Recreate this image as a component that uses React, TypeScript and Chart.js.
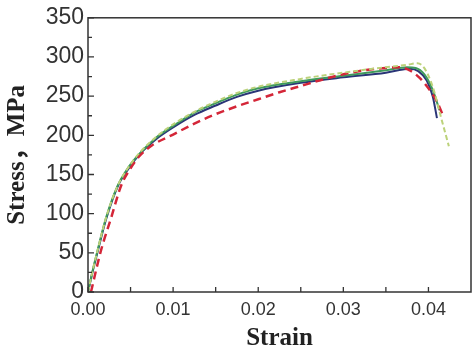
import React, { useEffect, useRef } from "react";
import { Chart, registerables } from "chart.js";

Chart.register(...registerables);

const xTicks = [0, 0.01, 0.02, 0.03, 0.04];
const yTicks = [0, 50, 100, 150, 200, 250, 300, 350];

const blueStrain = [0, 0.0005, 0.0011, 0.0021, 0.0035, 0.0048, 0.006, 0.008, 0.01, 0.0125, 0.015, 0.0175, 0.02, 0.025, 0.03, 0.035, 0.037, 0.0378, 0.0388, 0.0398, 0.0405, 0.041];
const blueStress = [0, 24, 50, 92, 135, 158, 175, 195, 210, 226, 238, 249, 257, 267, 274, 280, 284, 285, 282, 270, 250, 222];

const greenStrain = [0, 0.0005, 0.0011, 0.0021, 0.0035, 0.0048, 0.006, 0.008, 0.01, 0.0125, 0.015, 0.0175, 0.02, 0.025, 0.03, 0.035, 0.0375, 0.0385, 0.0395, 0.0405, 0.0413];
const greenStress = [0, 25, 52, 94, 136, 160, 176, 197, 212, 229, 241, 252, 260, 269, 276, 283, 287, 286, 278, 258, 232];

const redStrain = [0.00035, 0.0015, 0.0027, 0.0039, 0.005, 0.006, 0.0075, 0.01, 0.0125, 0.015, 0.0175, 0.02, 0.0225, 0.025, 0.0275, 0.03, 0.0325, 0.035, 0.0365, 0.0378, 0.039, 0.04, 0.041, 0.0416];
const redStress = [0, 52, 94, 136, 158, 173, 187, 201, 215, 227, 237, 246, 255, 263, 271, 278, 283, 286, 287, 283, 273, 260, 243, 228];

const lightStrain = [0, 0.0005, 0.0011, 0.0021, 0.0035, 0.0048, 0.006, 0.008, 0.01, 0.0125, 0.015, 0.0175, 0.02, 0.025, 0.03, 0.035, 0.0375, 0.0387, 0.0395, 0.0405, 0.0415, 0.0424];
const lightStress = [0, 25, 52, 94, 136, 160, 177, 198, 214, 230, 243, 254, 262, 272, 280, 287, 290, 292, 286, 262, 222, 186];

const pts = (xs: number[], ys: number[]) => xs.map((x, i) => ({ x, y: ys[i] }));

const framePlugin = {
  id: "frame",
  afterDraw(chart: any) {
    const { ctx, chartArea: a, scales } = chart;
    const xs = scales.x;
    const ys = scales.y;
    ctx.save();
    ctx.strokeStyle = "#333";
    ctx.lineWidth = 1.5;
    ctx.strokeRect(a.left, a.top, a.right - a.left, a.bottom - a.top);
    ctx.lineWidth = 1.3;
    ctx.beginPath();
    for (let v = 0; v <= 0.0451; v += 0.005) {
      const px = xs.getPixelForValue(v);
      if (px > a.right - 1) continue;
      ctx.moveTo(px, a.bottom);
      ctx.lineTo(px, a.bottom - 5);
    }
    for (let v = 0; v <= 350; v += 25) {
      const py = ys.getPixelForValue(v);
      const len = v % 50 === 0 ? 6 : 4;
      ctx.moveTo(a.left, py);
      ctx.lineTo(a.left + len, py);
    }
    ctx.stroke();
    ctx.restore();
  },
};

export default function App() {
  const ref = useRef<HTMLCanvasElement>(null);
  useEffect(() => {
    document.body.style.margin = "0";
    const chart = new Chart(ref.current!, {
      type: "line",
      data: {
        datasets: [
          { data: pts(lightStrain, lightStress), borderColor: "#bcd27a", borderWidth: 2, borderDash: [5, 3], pointRadius: 0, cubicInterpolationMode: "monotone" },
          { data: pts(redStrain, redStress), borderColor: "#d42638", borderWidth: 2.5, borderDash: [8, 5], pointRadius: 0, cubicInterpolationMode: "monotone" },
          { data: pts(greenStrain, greenStress), borderColor: "#3f9a5c", borderWidth: 2, pointRadius: 0, cubicInterpolationMode: "monotone" },
          { data: pts(blueStrain, blueStress), borderColor: "#2a3577", borderWidth: 2, pointRadius: 0, cubicInterpolationMode: "monotone" },
        ],
      },
      options: {
        responsive: false,
        animation: false,
        layout: { padding: { top: 11, right: 3, left: 0, bottom: 0 } },
        plugins: { legend: { display: false }, tooltip: { enabled: false } },
        scales: {
          x: {
            type: "linear",
            min: 0,
            max: 0.045,
            afterBuildTicks: (s: any) => { s.ticks = xTicks.map((v) => ({ value: v })); },
            afterFit: (s: any) => { s.height = 59; },
            grid: { display: false, drawTicks: false },
            border: { display: false },
            ticks: {
              padding: 7,
              color: "#333",
              font: { family: "'Liberation Sans', Arial, sans-serif", size: 18 },
              callback: (v: any) => Number(v).toFixed(2),
            },
            title: {
              display: true,
              text: "Strain",
              color: "#222",
              padding: { top: 0, bottom: 0 },
              font: { family: "'Liberation Serif', 'Times New Roman', serif", size: 25, weight: "bold", lineHeight: 1.0 },
            },
          },
          y: {
            min: 0,
            max: 350,
            afterBuildTicks: (s: any) => { s.ticks = yTicks.map((v) => ({ value: v })); },
            afterFit: (s: any) => { s.width = 88; },
            grid: { display: false, drawTicks: false },
            border: { display: false },
            ticks: {
              padding: 4,
              color: "#333",
              font: { family: "'Liberation Sans', Arial, sans-serif", size: 23 },
            },
            title: {
              display: true,
              text: "Stress，MPa",
              color: "#222",
              padding: { top: 3, bottom: 0 },
              font: { family: "'Liberation Serif', 'Noto Sans CJK SC', serif", size: 25, weight: "bold", lineHeight: 1.2 },
            },
          },
        },
      },
      plugins: [framePlugin],
    } as any);
    return () => chart.destroy();
  }, []);
  return (
    <div style={{ width: 474, height: 351 }}>
      <canvas ref={ref} width={474} height={351} />
    </div>
  );
}
